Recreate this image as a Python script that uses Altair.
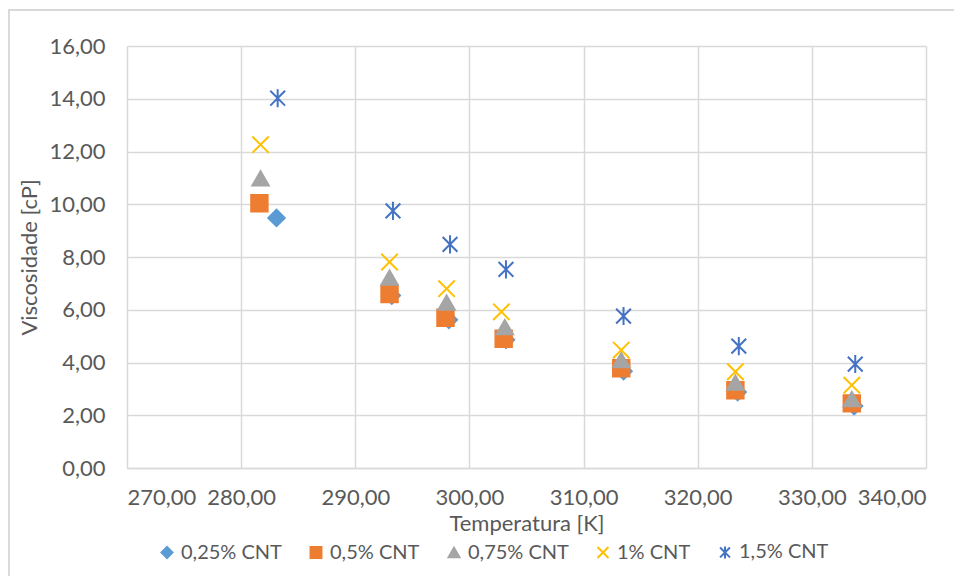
import altair as alt
import pandas as pd

series = ["0,25% CNT", "0,5% CNT", "0,75% CNT", "1% CNT", "1,5% CNT"]

temp_025 = [283.1, 293.2, 298.2, 303.2, 313.5, 323.5, 333.7]
visc_025 = [9.48, 6.54, 5.62, 4.86, 3.67, 2.88, 2.35]

temp_05 = [281.6, 293.0, 297.9, 303.0, 313.3, 323.3, 333.5]
visc_05 = [10.04, 6.60, 5.70, 4.90, 3.78, 2.95, 2.45]

temp_075 = [281.7, 293.0, 298.0, 303.1, 313.3, 323.3, 333.5]
visc_075 = [10.98, 7.22, 6.27, 5.34, 4.09, 3.24, 2.61]

temp_1 = [281.7, 293.0, 298.0, 302.8, 313.3, 323.3, 333.5]
visc_1 = [12.26, 7.81, 6.80, 5.92, 4.47, 3.65, 3.14]

temp_15 = [283.2, 293.3, 298.3, 303.2, 313.5, 323.6, 333.8]
visc_15 = [14.02, 9.75, 8.48, 7.53, 5.76, 4.62, 3.94]

colors = ["#5B9BD5", "#ED7D31", "#A5A5A5", "#FFC000", "#4472C4"]
fills = ["#5B9BD5", "#ED7D31", "#A5A5A5", "transparent", "transparent"]
shapes = ["diamond", "square", "triangle-up",
          "M-1,-1L1,1M1,-1L-1,1",
          "M-0.9,-0.9L0.9,0.9M0.9,-0.9L-0.9,0.9M0,-1.1L0,1.1"]

rows = []
for i, (name, xs, ys) in enumerate(zip(series,
                        [temp_025, temp_05, temp_075, temp_1, temp_15],
                        [visc_025, visc_05, visc_075, visc_1, visc_15])):
    for x, y in zip(xs, ys):
        rows.append({"serie": name, "temp": x, "visc": y, "idx": i})
df = pd.DataFrame(rows)

FONT = "Lato"
TXT = "#595959"
GRID = "#D9D9D9"
fmt = "replace(format(datum.value, '.2f'), '.', ',')"

leg = alt.Legend(orient="none", legendX=30, legendY=496, direction="horizontal",
                 title=None, labelFont=FONT, labelFontSize=20, labelColor=TXT,
                 symbolSize=120, symbolStrokeWidth=2, columnPadding=24, labelOffset=4)

points = alt.Chart(df).mark_point(size=270, opacity=1, strokeWidth=2).encode(
    x=alt.X("temp:Q", title="Temperatura [K]",
            scale=alt.Scale(domain=[270, 340], nice=False, zero=False),
            axis=alt.Axis(values=list(range(270, 341, 10)), labelExpr=fmt,
                          labelPadding=19, titlePadding=5, domain=True,
                          domainColor=GRID, domainWidth=1.5)),
    y=alt.Y("visc:Q", title="Viscosidade [cP]",
            scale=alt.Scale(domain=[0, 16], nice=False),
            axis=alt.Axis(values=list(range(0, 17, 2)), labelExpr=fmt,
                          labelPadding=22, titlePadding=7, domain=False)),
    color=alt.Color("serie:N", scale=alt.Scale(domain=series, range=colors), legend=leg),
    fill=alt.Fill("serie:N", scale=alt.Scale(domain=series, range=fills), legend=leg),
    shape=alt.Shape("serie:N", scale=alt.Scale(domain=series, range=shapes), legend=leg),
    order=alt.Order("idx:Q"),
)

border_left = alt.Chart(df).mark_rule(color=GRID, strokeWidth=1.5).encode(
    x=alt.value(-118.5), y=alt.value(-36), y2=alt.value(600))
border_top = alt.Chart(df).mark_rule(color=GRID, strokeWidth=1.5).encode(
    y=alt.value(-36), x=alt.value(-118.5), x2=alt.value(900))

chart = alt.layer(border_left, border_top, points).properties(
    width=799, height=422,
    autosize=alt.AutoSizeParams(type="none"),
    padding={"left": 119, "top": 38, "right": 28, "bottom": 108},
).configure_view(stroke=None).configure_axis(
    grid=True, gridColor=GRID, gridWidth=1.5, ticks=False,
    labelFont=FONT, labelFontSize=22, labelColor=TXT,
    titleFont=FONT, titleFontSize=22, titleColor=TXT, titleFontWeight="normal",
)

chart.save("out.html", embed_options={"renderer": "svg", "actions": False})
